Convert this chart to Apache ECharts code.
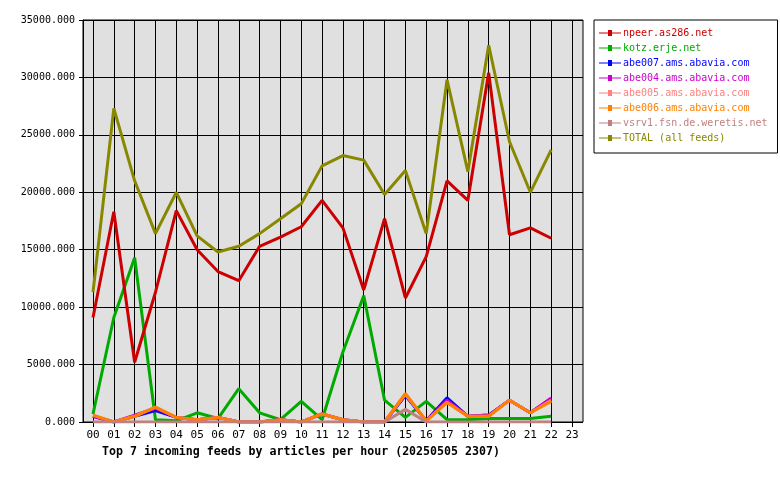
<!DOCTYPE html><html><head><meta charset="utf-8">
<script src="https://cdn.jsdelivr.net/npm/echarts@6/dist/echarts.min.js"></script>
<style>body{margin:0;background:#fff}#c{width:780px;height:480px}</style></head><body><div id="c"></div>
<script>
const hours=['00','01','02','03','04','05','06','07','08','09','10','11','12','13','14','15','16','17','18','19','20','21','22','23'];
const names=['npeer.as286.net','kotz.erje.net','abe007.ams.abavia.com','abe004.ams.abavia.com','abe005.ams.abavia.com','abe006.ams.abavia.com','vsrv1.fsn.de.weretis.net','TOTAL (all feeds)'];
const colors=['#cc0000','#00aa00','#0000ff','#cc00cc','#ff8080','#ff8000','#c08080','#888800'];
const npeer=[9100,18300,5200,11300,18400,15000,13100,12300,15300,16100,17000,19300,16900,11500,17700,10800,14400,21000,19300,30400,16300,16900,16000];
const kotz=[700,9100,14300,200,100,800,300,2900,800,200,1800,200,6100,11000,1900,400,1800,200,200,300,300,300,500];
const abe007=[500,0,500,1000,400,200,400,0,0,200,0,700,200,0,0,2300,100,2100,500,600,1900,800,2000];
const abe004=[500,0,600,1200,400,200,400,0,0,200,0,700,200,0,0,2400,100,1900,500,600,1900,800,2100];
const abe005=[600,0,500,1300,400,200,400,0,0,200,0,700,200,0,0,2400,100,1700,500,500,1900,800,1900];
const abe006=[600,0,500,1300,400,200,400,0,0,200,0,700,200,0,0,2500,100,1700,500,500,1900,800,1800];
const vsrv1=[0,0,0,0,0,0,0,0,0,0,0,0,0,0,0,1100,0,0,0,0,0,0,0];
const total=[11300,27300,21000,16400,20000,16200,14800,15300,16400,17700,19000,22300,23200,22800,19800,21900,16400,29800,21800,32800,24400,20000,23700];
const yTicks=[0,5000,10000,15000,20000,25000,30000,35000];
const datas=[npeer,kotz,abe007,abe004,abe005,abe006,vsrv1,total];
const font='DejaVu Sans Mono';
const ch=echarts.init(document.getElementById('c'));
ch.setOption({
 animation:false,
 textStyle:{fontFamily:font},
 grid:[{left:83,right:197,top:20,height:402,show:true,backgroundColor:'#e0e0e0',borderColor:'#000',borderWidth:1},
       {left:93,right:208,top:20,height:402}],
 xAxis:[{gridIndex:0,type:'value',min:0,max:1,show:false},
        {gridIndex:1,type:'category',data:hours,boundaryGap:false,
         axisLine:{show:false},axisTick:{length:5,lineStyle:{color:'#000'}},
         axisLabel:{color:'#000',fontFamily:font,fontSize:11,margin:8},
         splitLine:{show:true,lineStyle:{color:'#000',width:1}}}],
 yAxis:[{gridIndex:0,type:'value',min:0,max:yTicks[yTicks.length-1],interval:5000,
         axisLine:{show:true,lineStyle:{color:'#000'}},axisTick:{show:true,length:4,lineStyle:{color:'#000'}},
         axisLabel:{color:'#000',fontFamily:font,fontSize:10,formatter:v=>v.toFixed(3)},
         splitLine:{lineStyle:{color:'#000',width:1}}},
        {gridIndex:1,type:'value',min:0,max:35000,show:false}],
 legend:{orient:'vertical',left:594,top:20,padding:[7,10,9,5],
   borderColor:'#000',borderWidth:1,itemGap:3,itemWidth:22,itemHeight:6,icon:'path://M0,2.5H9V0H13V2.5H22V3.5H13V6H9V3.5H0Z',
   textStyle:{fontFamily:font,fontSize:10,lineHeight:12,padding:[0,0,0,-3]},data:names.map((n,i)=>({name:n,textStyle:{color:colors[i]}}))},
 title:{text:'Top 7 incoming feeds by articles per hour (20250505 2307)',left:102,top:446,padding:0,
   textStyle:{fontFamily:font,fontSize:11.6,fontWeight:'bold',color:'#000'}},
 series:datas.map((d,i)=>({name:names[i],type:'line',xAxisIndex:1,yAxisIndex:1,data:d,
   showSymbol:false,symbol:'none',color:colors[i],lineStyle:{width:3,color:colors[i]},z:i===0||i===7?3:2}))
});
</script></body></html>
